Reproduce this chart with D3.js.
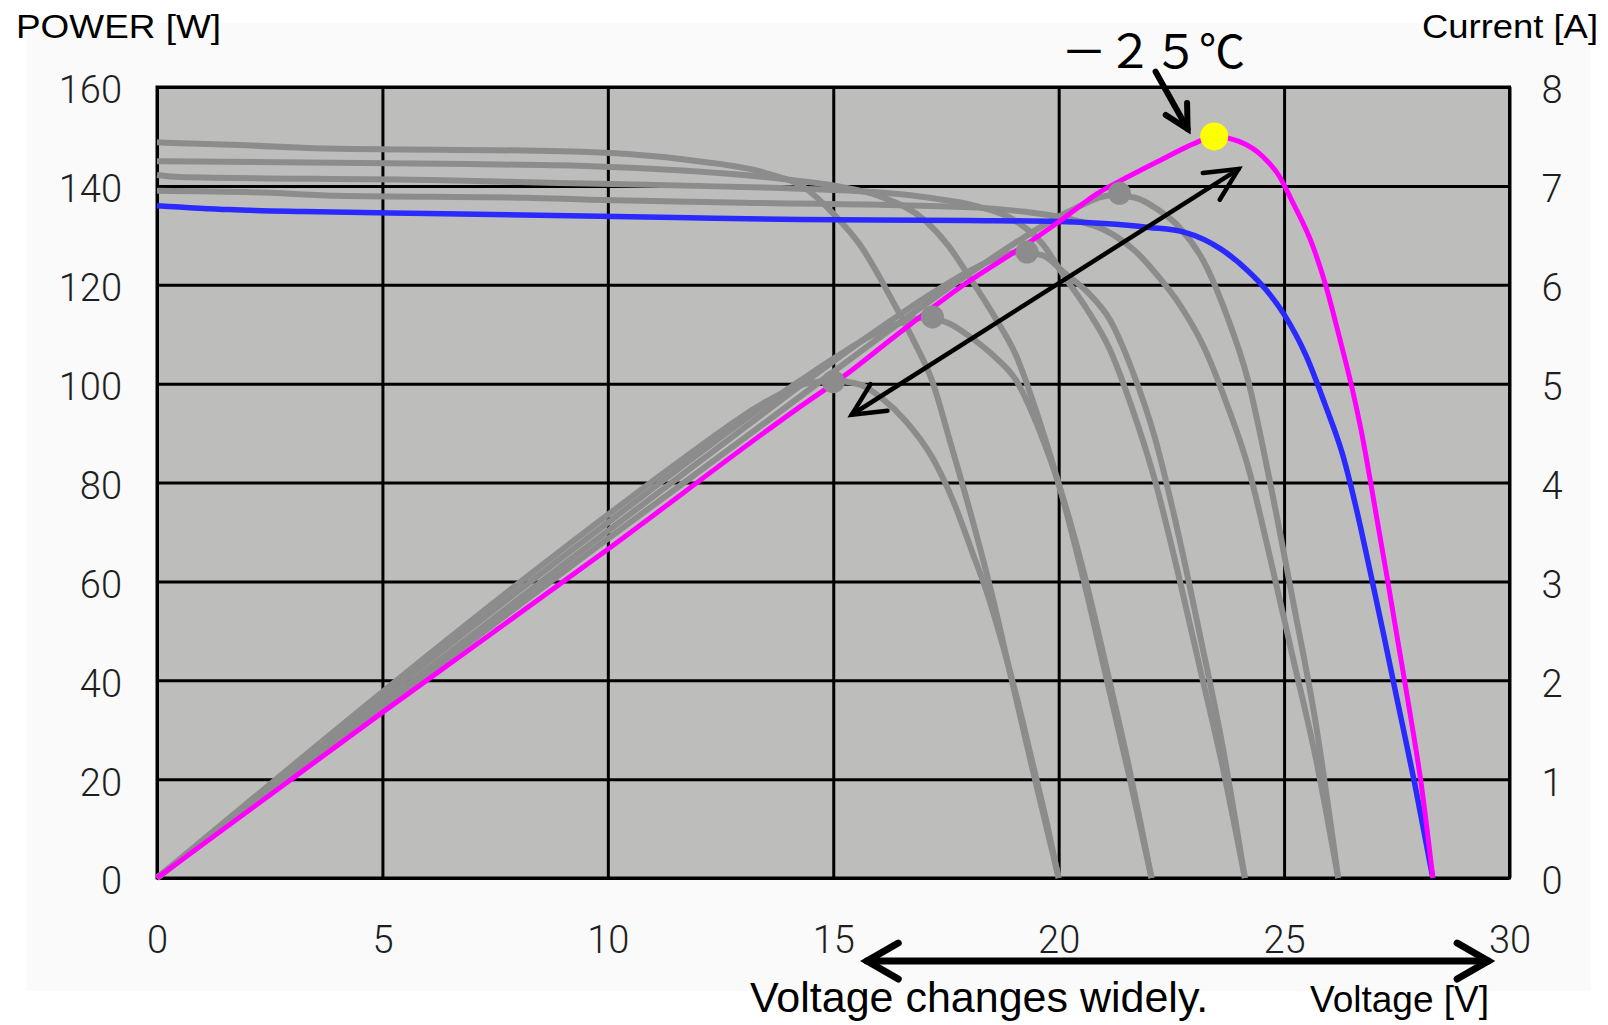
<!DOCTYPE html>
<html>
<head>
<meta charset="utf-8">
<script src="https://cdn.jsdelivr.net/npm/d3@7"></script>
<style>
  body { margin: 0; background: #ffffff; }
  svg { display: block; }
</style>
</head>
<body>
<div id="chart"></div>
<script>
const voltageTicks = [0, 5, 10, 15, 20, 25, 30];
const powerTicks = [0, 20, 40, 60, 80, 100, 120, 140, 160];
const currentTicks = [0, 1, 2, 3, 4, 5, 6, 7, 8];

// -25 °C module: [voltage V, current A] and [voltage V, power W]
const ivMinus25 = [[0, 6.80], [1.6, 6.76], [3.25, 6.74], [6, 6.72], [8.8, 6.70], [11.5, 6.68], [14.3, 6.66],
  [18, 6.65], [20, 6.64], [21, 6.62], [22, 6.58], [22.8, 6.53], [23.6, 6.36], [24.2, 6.14], [24.6, 5.95],
  [25.0, 5.70], [25.5, 5.27], [25.9, 4.80], [26.3, 4.28], [26.6, 3.74], [26.9, 3.12], [27.2, 2.48],
  [27.5, 1.82], [27.9, 0.95], [28.3, 0]];
const pvMinus25 = [[0, 0], [5, 33.5], [10, 66.5], [14.26, 95.3], [15.22, 101.4], [16.4, 109.8], [17.88, 119.9],
  [19.35, 128.6], [20.09, 133.3], [20.83, 138.3], [21.57, 142.0], [22.3, 145.4], [23.04, 148.7], [23.45, 150.0],
  [24.0, 149.0], [24.52, 146.0], [24.89, 142.0], [25.2, 136.5], [25.63, 128.0], [25.92, 120.0], [26.21, 110.0],
  [26.51, 99.0], [26.73, 89.6], [26.91, 80.5], [27.1, 70.5], [27.3, 60.0], [27.54, 47.0], [27.8, 33.0],
  [28.05, 18.5], [28.3, 0]];
const mppMinus25 = [[23.45, 150.0]];

// warmer module temperatures (grey), from coolest to hottest
const ivGray1 = [[0, 6.95], [2.5, 6.93], [4, 6.90], [8.2, 6.88], [9.6, 6.86], [13, 6.83], [18.2, 6.78], [19.2, 6.74],
  [20.2, 6.67], [21.2, 6.51], [21.7, 6.34], [22.2, 6.09], [22.7, 5.79], [23.2, 5.39], [23.7, 4.83], [24.2, 4.16],
  [24.7, 3.22], [25.2, 2.22], [25.7, 1.22], [26.2, 0]];
const pvGray1 = [[0, 0], [4, 27.6], [9.6, 65.9], [13, 88.8], [18.2, 123.4], [19.2, 129.4], [20.2, 134.7],
  [21.2, 138.1], [21.7, 137.6], [22.2, 135.2], [22.7, 131.4], [23.2, 125.0], [23.7, 114.5], [24.2, 100.7],
  [24.7, 79.5], [25.2, 55.9], [25.7, 31.4], [26.2, 0]];

const ivGray2 = [[0, 7.11], [0.5, 7.09], [6.1, 7.06], [8.9, 7.03], [12, 7.00], [16.13, 6.93], [17.13, 6.88],
  [18.13, 6.80], [19.13, 6.62], [19.63, 6.42], [20.13, 6.08], [20.63, 5.75], [21.13, 5.35], [21.63, 4.75],
  [22.13, 4.03], [22.63, 3.12], [23.13, 2.13], [23.63, 1.14], [24.13, 0]];
const pvGray2 = [[0, 0], [8.9, 62.6], [12, 84.0], [16.13, 111.8], [17.13, 117.9], [18.13, 123.3], [19.13, 126.6],
  [19.63, 126.0], [20.13, 122.4], [20.63, 118.6], [21.13, 113.0], [21.63, 102.7], [22.13, 89.2], [22.63, 70.6],
  [23.13, 49.3], [23.63, 26.9], [24.13, 0]];

const ivGray3 = [[0, 7.25], [6.9, 7.22], [9.5, 7.20], [14.06, 7.06], [15.06, 7.00], [16.06, 6.89], [17.06, 6.64],
  [17.56, 6.39], [18.06, 6.05], [18.56, 5.69], [19.06, 5.28], [19.56, 4.64], [20.06, 3.89], [20.56, 3.00],
  [21.06, 2.02], [21.56, 1.04], [22.06, 0]];
const pvGray3 = [[0, 0], [9.5, 68.4], [14.06, 99.3], [15.06, 105.4], [16.06, 110.7], [17.06, 113.3], [17.56, 112.2],
  [18.06, 109.3], [18.56, 105.6], [19.06, 100.6], [19.56, 90.8], [20.06, 78.0], [20.56, 61.7], [21.06, 42.5],
  [21.56, 22.4], [22.06, 0]];

const ivGray4 = [[0, 7.44], [2, 7.41], [3.5, 7.38], [9, 7.35], [10.5, 7.32], [12, 7.25], [13.5, 7.13], [14.4, 6.97],
  [15.0, 6.72], [15.6, 6.40], [16.3, 5.85], [16.8, 5.42], [17.2, 5.02], [17.6, 4.40], [18.1, 3.60], [18.54, 2.83],
  [18.92, 2.08], [19.4, 1.14], [20.0, 0]];
const pvGray4 = [[0, 0], [10.5, 76.9], [12, 87.0], [13.5, 96.3], [14.4, 100.0], [15.0, 100.6], [15.6, 99.8],
  [16.08, 97.0], [16.6, 92.5], [17.2, 85.0], [17.65, 76.5], [18.1, 65.5], [18.4, 58.0], [18.7, 49.0],
  [19.07, 36.5], [19.44, 22.5], [19.74, 11.0], [20.0, 0]];

const mppGray = [[15.0, 100.4], [17.2, 113.5], [19.3, 126.6], [21.35, 138.5]];

const width = 1608;
const height = 1025;
const margin = { top: 87, right: 98.5, bottom: 147, left: 157 };
const innerWidth = width - margin.left - margin.right;
const innerHeight = height - margin.top - margin.bottom;

const tickFont = 'Roboto, "Liberation Sans", Arial, sans-serif';
const labelFont = '"Liberation Sans", Arial, sans-serif';

const xScale = d3.scaleLinear().domain([0, 30]).range([0, innerWidth]);
const powerScale = d3.scaleLinear().domain([0, 160]).range([innerHeight, 0]);
const currentScale = d3.scaleLinear().domain([0, 8]).range([innerHeight, 0]);

const svg = d3.select('#chart').append('svg')
  .attr('width', width)
  .attr('height', height);

// faint backing panel behind the whole figure
svg.append('rect')
  .attr('x', 27).attr('y', 23)
  .attr('width', 1563).attr('height', 968)
  .attr('fill', '#f9faf9');

const g = svg.append('g')
  .attr('transform', `translate(${margin.left},${margin.top})`);

g.append('rect')
  .attr('width', innerWidth)
  .attr('height', innerHeight)
  .attr('fill', '#bdbebb');

const xAxis = d3.axisBottom(xScale)
  .tickValues(voltageTicks)
  .tickFormat(d3.format('d'))
  .tickSize(-innerHeight)
  .tickPadding(48);

const yAxis = d3.axisLeft(powerScale)
  .tickValues(powerTicks)
  .tickFormat(d3.format('d'))
  .tickSize(-innerWidth)
  .tickPadding(35);

const y2Axis = d3.axisRight(currentScale)
  .tickValues(currentTicks)
  .tickFormat(d3.format('d'))
  .tickSize(0)
  .tickPadding(32);

const xAxisG = g.append('g')
  .attr('transform', `translate(0,${innerHeight})`)
  .call(xAxis);
const yAxisG = g.append('g').call(yAxis);
const y2AxisG = g.append('g')
  .attr('transform', `translate(${innerWidth},0)`)
  .call(y2Axis);

[xAxisG, yAxisG, y2AxisG].forEach(a => {
  a.attr('font-size', 38)
    .attr('font-family', tickFont)
    .attr('font-weight', 300);
  a.select('.domain').remove();
  a.selectAll('.tick line').attr('stroke', '#000').attr('stroke-width', 3);
  a.selectAll('.tick text').attr('fill', '#1e1e1e');
});
yAxisG.selectAll('.tick text').attr('dy', '0.42em');
y2AxisG.selectAll('.tick text').attr('dy', '0.42em');

g.append('rect')
  .attr('width', innerWidth)
  .attr('height', innerHeight)
  .attr('fill', 'none')
  .attr('stroke', '#000')
  .attr('stroke-width', 3);

const powerLine = d3.line()
  .x(d => xScale(d[0]))
  .y(d => powerScale(d[1]))
  .curve(d3.curveMonotoneX);

const currentLine = d3.line()
  .x(d => xScale(d[0]))
  .y(d => currentScale(d[1]))
  .curve(d3.curveMonotoneX);

const grayCurrent = [ivGray1, ivGray2, ivGray3, ivGray4];
const grayPower = [pvGray1, pvGray2, pvGray3, pvGray4];

g.selectAll('.iv-gray').data(grayCurrent).enter().append('path')
  .attr('class', 'iv-gray')
  .attr('d', currentLine)
  .attr('fill', 'none')
  .attr('stroke', '#8c8c8c')
  .attr('stroke-width', 6);

g.selectAll('.pv-gray').data(grayPower).enter().append('path')
  .attr('class', 'pv-gray')
  .attr('d', powerLine)
  .attr('fill', 'none')
  .attr('stroke', '#8c8c8c')
  .attr('stroke-width', 6);

g.append('path')
  .datum(ivMinus25)
  .attr('d', currentLine)
  .attr('fill', 'none')
  .attr('stroke', '#2a2aff')
  .attr('stroke-width', 5.5);

g.append('path')
  .datum(pvMinus25)
  .attr('d', powerLine)
  .attr('fill', 'none')
  .attr('stroke', '#ff00ff')
  .attr('stroke-width', 5);

g.selectAll('.mpp-gray').data(mppGray).enter().append('circle')
  .attr('class', 'mpp-gray')
  .attr('cx', d => xScale(d[0]))
  .attr('cy', d => powerScale(d[1]))
  .attr('r', 11.5)
  .attr('fill', '#8c8c8c');

g.selectAll('.mpp-cold').data(mppMinus25).enter().append('circle')
  .attr('class', 'mpp-cold')
  .attr('cx', d => xScale(d[0]))
  .attr('cy', d => powerScale(d[1]))
  .attr('r', 14)
  .attr('fill', '#ffff00');

// arrows, placed in data units
function arrow(p1, p2, opts) {
  const x1 = xScale(p1[0]), y1 = powerScale(p1[1]);
  const x2 = xScale(p2[0]), y2 = powerScale(p2[1]);
  g.append('line')
    .attr('x1', x1).attr('y1', y1)
    .attr('x2', x2).attr('y2', y2)
    .attr('stroke', '#000')
    .attr('stroke-width', opts.w)
    .attr('stroke-linecap', 'round');
  const heads = [];
  if (opts.end) heads.push([x2, y2, Math.atan2(y1 - y2, x1 - x2)]);
  if (opts.start) heads.push([x1, y1, Math.atan2(y2 - y1, x2 - x1)]);
  const th = opts.angle * Math.PI / 180;
  heads.forEach(([tx, ty, a]) => {
    const pts = [
      [tx + opts.len * Math.cos(a + th), ty + opts.len * Math.sin(a + th)],
      [tx, ty],
      [tx + opts.len * Math.cos(a - th), ty + opts.len * Math.sin(a - th)]
    ];
    g.append('path')
      .attr('d', d3.line()(pts))
      .attr('fill', 'none')
      .attr('stroke', '#000')
      .attr('stroke-width', opts.w)
      .attr('stroke-linecap', 'round')
      .attr('stroke-linejoin', 'miter');
  });
}

arrow([15.41, 93.7], [23.99, 143.4], { w: 4.5, len: 36, angle: 26, start: true, end: true });
arrow([22.15, 163.1], [22.86, 151.5], { w: 6, len: 26, angle: 28, end: true });
arrow([15.75, -16.8], [29.53, -16.8], { w: 7, len: 36, angle: 30, start: true, end: true });

// texts
svg.append('text')
  .attr('x', 16).attr('y', 38)
  .attr('font-family', labelFont)
  .attr('font-size', 34)
  .attr('textLength', 205).attr('lengthAdjust', 'spacingAndGlyphs')
  .text('POWER [W]');

svg.append('text')
  .attr('x', 1422).attr('y', 38)
  .attr('font-family', labelFont)
  .attr('font-size', 34)
  .attr('textLength', 176).attr('lengthAdjust', 'spacingAndGlyphs')
  .text('Current [A]');

svg.append('text')
  .attr('x', 750).attr('y', 1012)
  .attr('font-family', labelFont)
  .attr('font-size', 43)
  .text('Voltage changes widely.');

svg.append('text')
  .attr('x', 1310).attr('y', 1012)
  .attr('font-family', labelFont)
  .attr('font-size', 36)
  .attr('textLength', 179).attr('lengthAdjust', 'spacingAndGlyphs')
  .text('Voltage [V]');

svg.append('text')
  .attr('x', 1061).attr('y', 68)
  .attr('font-family', '"Noto Sans CJK JP", sans-serif')
  .attr('font-size', 46)
  .text('－２５℃');
</script>
</body>
</html>
